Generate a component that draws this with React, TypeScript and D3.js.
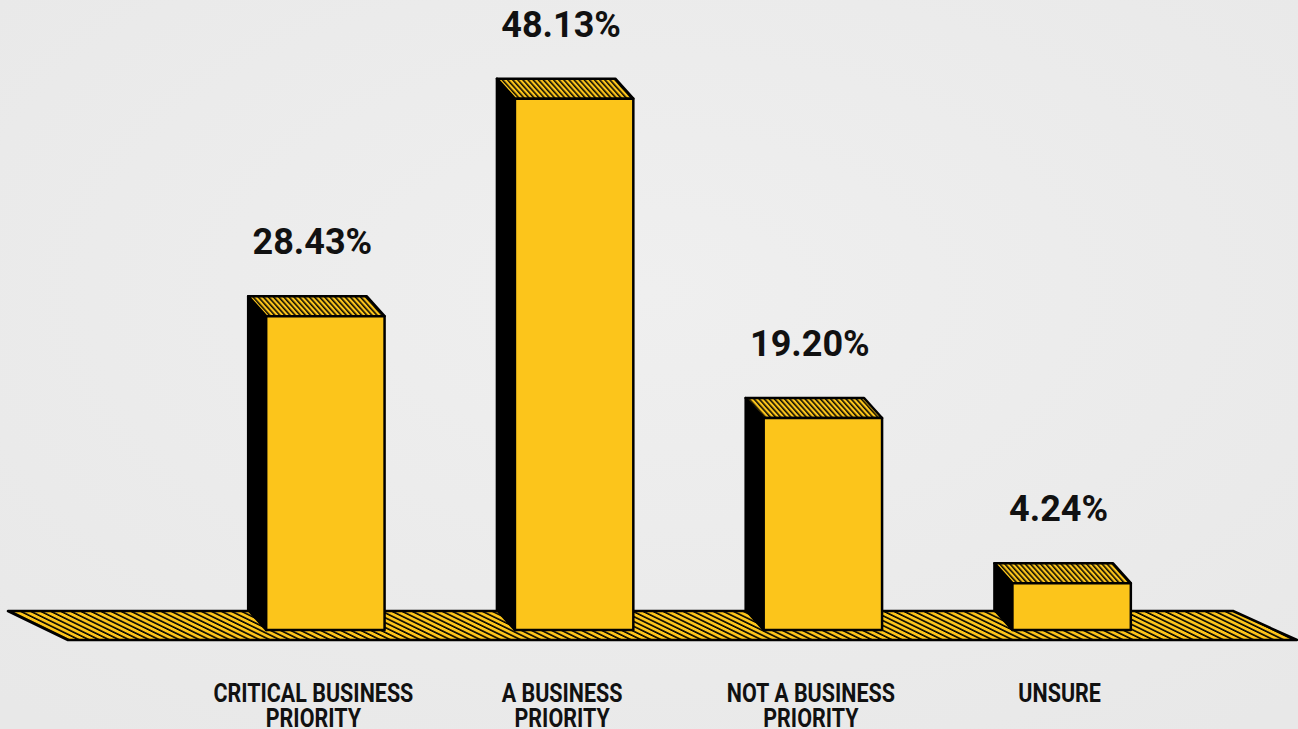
import React, { useEffect } from "react";
import * as d3 from "d3";

const categories: string[] = [
  "CRITICAL BUSINESS\nPRIORITY",
  "A BUSINESS\nPRIORITY",
  "NOT A BUSINESS\nPRIORITY",
  "UNSURE",
];
const values: number[] = [28.43, 48.13, 19.2, 4.24];
const valueDomain: number[] = [0, 50];

const W = 1298;
const H = 729;
const BAR_COLOR = "#FCC51B";
const DX = -18;
const DY = -20;

export default function App() {
  useEffect(() => {
    document.body.style.margin = "0";
    document.body.style.overflow = "hidden";
  }, []);

  const x = d3
    .scaleBand<string>()
    .domain(categories)
    .range([201, 1196])
    .paddingInner(0.524)
    .paddingOuter(0.262);
  const y = d3.scaleLinear().domain(valueDomain).range([630, 78]);
  const fmt = d3.format(".2f");
  const base = y(0);
  const bw = x.bandwidth();

  const floorBackY = 611;
  const floorFrontY = 640;
  const floorPts: [number, number][] = [
    [8, floorBackY],
    [1233, floorBackY],
    [1297, floorFrontY],
    [68, floorFrontY],
  ];
  const line = d3.line();

  return (
    <svg width={W} height={H} style={{ display: "block", background: "#ececec" }}>
      <defs>
        <pattern
          id="hatchTop"
          width={3.8}
          height={10}
          patternUnits="userSpaceOnUse"
          patternTransform="rotate(-42)"
        >
          <rect width={3.8} height={10} fill={BAR_COLOR} />
          <line x1={0.8} y1={0} x2={0.8} y2={10} stroke="#000" strokeWidth={1.5} />
        </pattern>
        <pattern
          id="hatchFloor"
          width={4.4}
          height={10}
          patternUnits="userSpaceOnUse"
          patternTransform="rotate(-64)"
        >
          <rect width={4.4} height={10} fill={BAR_COLOR} />
          <line x1={0.8} y1={0} x2={0.8} y2={10} stroke="#000" strokeWidth={1.6} />
        </pattern>
        <radialGradient id="bgGrad" cx="50%" cy="40%" r="75%">
          <stop offset="0%" stopColor="#efefef" />
          <stop offset="100%" stopColor="#e8e8e8" />
        </radialGradient>
      </defs>
      <rect width={W} height={H} fill="url(#bgGrad)" />

      <path
        d={line(floorPts) + "Z"}
        fill="url(#hatchFloor)"
        stroke="#000"
        strokeWidth={2.5}
        strokeLinejoin="round"
      />

      {categories.map((c, i) => {
        const x0 = x(c) as number;
        const x1 = x0 + bw;
        const top = y(values[i]);
        const side: [number, number][] = [
          [x0 + DX, top + DY],
          [x0, top],
          [x0, base],
          [x0 + DX, base + DY],
        ];
        const topFace: [number, number][] = [
          [x0 + DX, top + DY],
          [x1 + DX, top + DY],
          [x1, top],
          [x0, top],
        ];
        const front: [number, number][] = [
          [x0, top],
          [x1, top],
          [x1, base],
          [x0, base],
        ];
        const cx = x0 + bw / 2;
        const lines = c.split("\n");
        return (
          <g key={c}>
            <path d={line(side) + "Z"} fill="#000" stroke="#000" strokeWidth={2.5} strokeLinejoin="round" />
            <path d={line(topFace) + "Z"} fill="url(#hatchTop)" stroke="#000" strokeWidth={2.5} strokeLinejoin="round" />
            <path d={line(front) + "Z"} fill={BAR_COLOR} stroke="#000" strokeWidth={2.5} strokeLinejoin="round" />
            <text
              x={cx - 13}
              y={top - 62}
              textAnchor="middle"
              fontFamily="Roboto, 'Open Sans', sans-serif"
              fontWeight={700}
              fontSize={36}
              fill="#111"
            >
              {fmt(values[i]) + "%"}
            </text>
            <g transform={`translate(${cx - 12},702) scale(0.86,1)`}>
              {lines.map((l, j) => (
                <text
                  key={j}
                  x={0}
                  y={j * 25}
                  textAnchor="middle"
                  fontFamily="Roboto, 'Open Sans', sans-serif"
                  fontWeight={700}
                  fontSize={25}
                  fill="#111"
                >
                  {l}
                </text>
              ))}
            </g>
          </g>
        );
      })}
    </svg>
  );
}
